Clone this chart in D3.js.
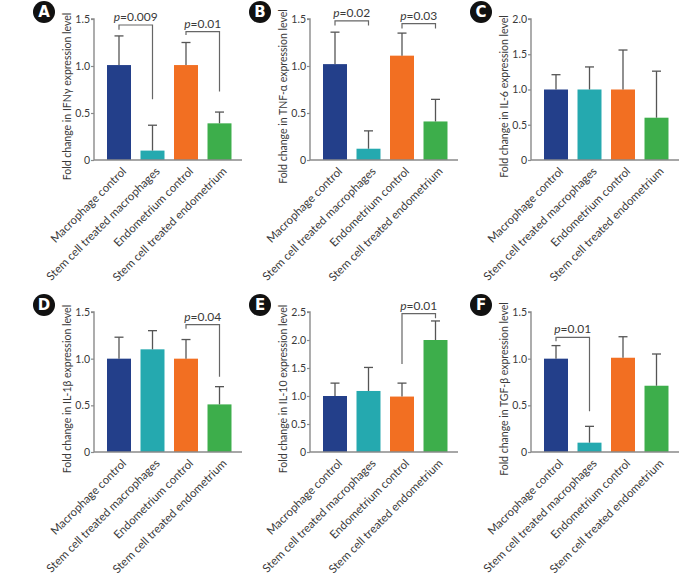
<!DOCTYPE html>
<html><head><meta charset="utf-8">
<script src="https://cdn.jsdelivr.net/npm/d3@7"></script>
<style>
html,body{margin:0;padding:0;background:#fff;}
svg{display:block;font-family:Lato,"Open Sans",sans-serif;}
</style></head>
<body><svg id="chart" width="696" height="574"></svg>
<script>
const categories = ["Macrophage control","Stem cell treated macrophages","Endometrium control","Stem cell treated endometrium"];
const panelLetters = ["A","B","C","D","E","F"];
const panelTitles = ["Fold change in IFNγ expression level","Fold change in TNF-α expression level","Fold change in IL-6 expression level","Fold change in IL-1β expression level","Fold change in IL-10 expression level","Fold change in TGF-β expression level"];
const meanIFNg = [1.01,0.10,1.01,0.39], errIFNg = [0.31,0.27,0.24,0.12];
const meanTNFa = [1.02,0.12,1.11,0.41], errTNFa = [0.34,0.19,0.24,0.235];
const meanIL6  = [1.00,1.00,1.00,0.60], errIL6  = [0.21,0.32,0.56,0.66];
const meanIL1b = [1.00,1.10,1.00,0.51], errIL1b = [0.23,0.20,0.205,0.19];
const meanIL10 = [1.00,1.09,0.99,2.00], errIL10 = [0.23,0.42,0.24,0.34];
const meanTGFb = [1.00,0.10,1.01,0.71], errTGFb = [0.14,0.175,0.225,0.34];
const yMaxes = [1.5,1.5,2.0,1.5,2.5,1.5];
const yTicks = [[0,0.5,1,1.5],[0,0.5,1,1.5],[0,0.5,1,1.5,2],[0,0.5,1,1.5],[0,0.5,1,1.5,2,2.5],[0,0.5,1,1.5]];
// brackets: from bar a to bar b, bracket value, left leg end, right leg end, p text
const bracketsIFNg = [[0,1,1.436,1.385,0.645,"0.009"],[2,3,1.365,1.33,0.73,"0.01"]];
const bracketsTNFa = [[0,1,1.48,1.43,1.43,"0.02"],[2,3,1.45,1.40,1.40,"0.03"]];
const bracketsIL6 = [];
const bracketsIL1b = [[2,3,1.365,1.32,0.807,"0.04"]];
const bracketsIL10 = [[2,3,2.47,1.57,2.39,"0.01"]];
const bracketsTGFb = [[0,1,1.229,1.186,0.436,"0.01"]];
const barColors = ["#233f8a","#25a9af","#f26f22","#3dae4b"];

const means = [meanIFNg,meanTNFa,meanIL6,meanIL1b,meanIL10,meanTGFb];
const errs = [errIFNg,errTNFa,errIL6,errIL1b,errIL10,errTGFb];
const brackets = [bracketsIFNg,bracketsTNFa,bracketsIL6,bracketsIL1b,bracketsIL10,bracketsTGFb];

const svg = d3.select("#chart");
const colX = [94,310,531];
const rowY = [[19,160],[312,452]];
const axisColor = "#8a8a8a", errColor = "#555", textColor = "#3a3a3a";

for (let i=0;i<6;i++){
  const ax = colX[i%3], [top,bottom] = rowY[Math.floor(i/3)];
  const g = svg.append("g");
  const y = d3.scaleLinear().domain([0,yMaxes[i]]).range([bottom,top]);
  const x = d3.scaleBand().domain(categories).range([ax+8.25, ax+142.25]).paddingInner(0.284).paddingOuter(0.142);
  // bars
  g.selectAll("rect.bar").data(categories).join("rect")
    .attr("x", d=>x(d)).attr("width", x.bandwidth())
    .attr("y", (d,j)=>y(means[i][j])).attr("height",(d,j)=>bottom - y(means[i][j]))
    .attr("fill",(d,j)=>barColors[j]);
  // error bars
  categories.forEach((c,j)=>{
    const cx = x(c)+x.bandwidth()/2;
    g.append("line").attr("x1",cx).attr("x2",cx).attr("y1",y(means[i][j])).attr("y2",y(means[i][j]+errs[i][j]))
      .attr("stroke",errColor).attr("stroke-width",1.3);
    g.append("line").attr("x1",cx-4.5).attr("x2",cx+4.5).attr("y1",y(means[i][j]+errs[i][j])).attr("y2",y(means[i][j]+errs[i][j]))
      .attr("stroke",errColor).attr("stroke-width",1.3);
  });
  // y axis
  const yAxis = d3.axisLeft(y).tickValues(yTicks[i]).tickSize(3).tickPadding(1)
    .tickFormat(v=> v===0 ? "0" : d3.format(".1f")(v));
  const ya = g.append("g").attr("transform",`translate(${ax},0)`).call(yAxis);
  ya.select(".domain").attr("stroke",axisColor).attr("stroke-width",1.4).attr("d",`M-3,${top}H0V${bottom}`);
  ya.selectAll(".tick line").attr("stroke",axisColor).attr("stroke-width",1.2);
  ya.selectAll(".tick text").attr("fill",textColor).style("font-size","10.5px").style("font-family","Lato, sans-serif");
  // x axis line
  g.append("line").attr("x1",ax).attr("x2",ax+148).attr("y1",bottom).attr("y2",bottom)
    .attr("stroke",axisColor).attr("stroke-width",1.5);
  // x labels
  categories.forEach(c=>{
    const cx = x(c)+x.bandwidth()/2;
    g.append("text").attr("transform",`translate(${cx+8},${bottom+12}) rotate(-45)`)
      .attr("text-anchor","end").attr("fill",textColor).style("font-size","11.5px").text(c);
  });
  // y title
  g.append("text").attr("transform",`translate(${ax-23.5},${(top+bottom)/2+7}) rotate(-90)`)
    .attr("text-anchor","middle").attr("fill",textColor).style("font-size","10.5px").text(panelTitles[i]);
  // brackets
  brackets[i].forEach(b=>{
    const x1 = x(categories[b[0]])+x.bandwidth()/2, x2 = x(categories[b[1]])+x.bandwidth()/2;
    g.append("path").attr("d",`M${x1},${y(b[3])}V${y(b[2])}H${x2}V${y(b[4])}`)
      .attr("fill","none").attr("stroke","#666").attr("stroke-width",1.2);
    const t = g.append("text").attr("x",(x1+x2)/2).attr("y",y(b[2])-4).attr("text-anchor","middle")
      .attr("fill",textColor).style("font-size","12px");
    t.append("tspan").style("font-style","italic").text("p");
    t.append("tspan").text("="+b[5]);
  });
  // letter badge
  g.append("circle").attr("cx",ax-50).attr("cy",top-7).attr("r",11).attr("fill","#111");
  g.append("text").attr("x",ax-50).attr("y",top-7).attr("dy","0.36em").attr("text-anchor","middle")
    .attr("fill","#fff").style("font-size","15px").style("font-weight","bold").style("font-family","'DejaVu Sans', sans-serif").text(panelLetters[i]);
}
</script></body></html>
